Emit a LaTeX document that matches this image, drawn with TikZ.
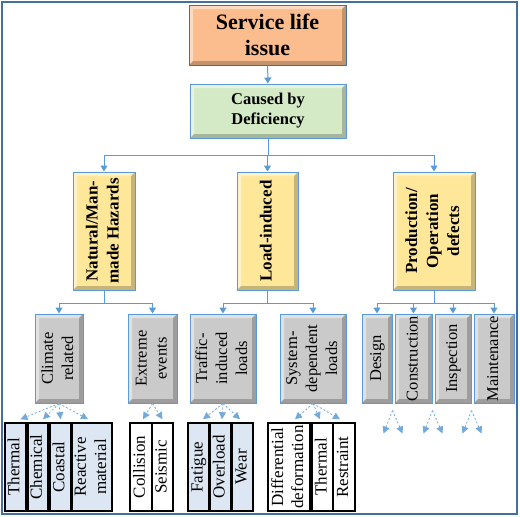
\documentclass[tikz,border=0pt]{standalone}
\usepackage{fontspec}
\setmainfont{Liberation Serif}
\usepackage{graphicx}
\usetikzlibrary{arrows.meta}

\definecolor{svcorange}{HTML}{FBBD8D}
\definecolor{defgreen}{HTML}{D4EAC7}
\definecolor{hazyellow}{HTML}{FFE79A}
\definecolor{subgrey}{HTML}{CACACA}
\definecolor{leafblue}{HTML}{DDE7F3}
\definecolor{linkblue}{HTML}{5B9BD5}
\definecolor{framebl}{HTML}{41719C}
\newcommand{\vt}[1]{\rotatebox{90}{\begin{tabular}{@{}c@{}}#1\end{tabular}}}

\tikzset{
  bevel/.style={path picture={
    \fill[white,opacity=.45] (path picture bounding box.south west) -- (path picture bounding box.north west)
      -- (path picture bounding box.north east) -- ([shift={(-4pt,-4pt)}]path picture bounding box.north east)
      -- ([shift={(4pt,-4pt)}]path picture bounding box.north west) -- ([shift={(4pt,4pt)}]path picture bounding box.south west) -- cycle;
    \fill[black,opacity=.22] (path picture bounding box.south west) -- (path picture bounding box.south east)
      -- (path picture bounding box.north east) -- ([shift={(-4pt,-4pt)}]path picture bounding box.north east)
      -- ([shift={(-4pt,4pt)}]path picture bounding box.south east) -- ([shift={(4pt,4pt)}]path picture bounding box.south west) -- cycle;}},
  topbox/.style={draw=framebl, line width=1pt, fill=svcorange, bevel, inner sep=0pt, align=center,
    font=\bfseries\fontsize{22}{26}\selectfont},
  defbox/.style={topbox, draw=linkblue, fill=defgreen, font=\bfseries\fontsize{16.5}{20}\selectfont},
  hazbox/.style={topbox, draw=linkblue, fill=hazyellow, minimum height=118pt, font=\bfseries\fontsize{17}{21}\selectfont},
  subbox/.style={topbox, draw=linkblue, fill=subgrey, minimum height=89pt, font=\fontsize{16.5}{20}\selectfont},
  leafbox/.style={draw=black, line width=1.5pt, fill=leafblue, inner sep=0pt, minimum height=88pt,
    font=\fontsize{17}{20}\selectfont},
  plainleaf/.style={leafbox, fill=white},
  line/.style={draw=linkblue, line width=1pt},
  link/.style={line, -{Triangle[width=7pt,length=6pt]}},
  dashlink/.style={draw=linkblue!85, line width=0.8pt, dash pattern=on 2pt off 2pt, -{Triangle[width=7pt,length=7pt]}}
}

\begin{document}
\begin{tikzpicture}[x=1pt, y=-1pt]

  \useasboundingbox (0,0) rectangle (520,517);
  \draw[framebl, line width=2pt] (2,2) rectangle (517,514);

  %% top levels
  \node[topbox, minimum width=157pt, minimum height=60pt] (issue) at (267.5,35) {Service life\\issue};
  \node[defbox, minimum width=156pt, minimum height=54pt] (cause) at (268,111) {Caused by\\Deficiency};

  \node[hazbox, minimum width=62pt] (nat)  at (104,231)   {\vt{Natural/Man-\\made Hazards}};
  \node[hazbox, minimum width=61pt] (load) at (267.5,231) {\vt{Load-induced}};
  \node[hazbox, minimum width=82pt] (prod) at (434,231)   {\vt{Production/\\Operation\\defects}};

  %% second level
  \node[subbox, minimum width=48pt] (clim)   at (59,358.5)    {\vt{Climate\\related}};
  \node[subbox, minimum width=49pt] (ext)    at (152.5,358.5) {\vt{Extreme\\events}};
  \node[subbox, minimum width=66pt] (traf)   at (223,358.5)   {\vt{Traffic-\\induced\\loads}};
  \node[subbox, minimum width=66pt] (sys)    at (313,358.5)   {\vt{System-\\dependent\\loads}};
  \node[subbox, minimum width=30pt] (design) at (377,358.5)   {\vt{Design}};
  \node[subbox, minimum width=37pt] (constr) at (413.5,358.5) {\vt{Construction}};
  \node[subbox, minimum width=36pt] (insp)   at (453,358.5)   {\vt{Inspection}};
  \node[subbox, minimum width=40pt] (maint)  at (494,358.5)   {\vt{Maintenance}};

  %% leaves
  \node[leafbox, minimum width=21pt] (thermA) at (15.5,467)  {\vt{Thermal}};
  \node[leafbox, minimum width=20pt] (chem)   at (38,467)    {\vt{Chemical}};
  \node[leafbox, minimum width=21pt] (coast)  at (60.5,467)  {\vt{Coastal}};
  \node[leafbox, minimum width=40pt] (react)  at (92,467)    {\vt{Reactive\\material}};
  \node[plainleaf, minimum width=22pt] (coll) at (141,467)   {\vt{Collision}};
  \node[plainleaf, minimum width=21pt] (seis) at (162.5,467) {\vt{Seismic}};
  \node[leafbox, minimum width=21pt] (fat)    at (198.5,467) {\vt{Fatigue}};
  \node[leafbox, minimum width=21pt] (over)   at (220.5,467) {\vt{Overload}};
  \node[leafbox, minimum width=21pt] (wear)   at (242.5,467) {\vt{Wear}};
  \node[plainleaf, minimum width=42pt] (diff)   at (289,467)   {\vt{Differential\\deformation}};
  \node[plainleaf, minimum width=21pt] (thermB) at (322.5,467) {\vt{Thermal}};
  \node[plainleaf, minimum width=22pt] (restr)  at (344,467)   {\vt{Restraint}};

  %% solid connectors
  \draw[link] (issue) -- (cause);
  \coordinate (bus0) at (268,155);
  \draw[line] (cause) -- (bus0);
  \foreach \n in {nat,load,prod} \draw[link] (bus0) -| (\n.north);

  \coordinate (busN) at (104,303);
  \draw[line] (nat) -- (busN);
  \foreach \n in {clim,ext} \draw[link] (busN) -| (\n.north);

  \coordinate (busL) at (267.5,303);
  \draw[line] (load) -- (busL);
  \foreach \n in {traf,sys} \draw[link] (busL) -| (\n.north);

  \coordinate (busP) at (434,303);
  \draw[line] (prod) -- (busP);
  \foreach \n in {design,constr,insp,maint} \draw[link] (busP) -| (\n.north);

  %% dashed connectors
  \foreach \n/\dx in {thermA/5,chem/5,coast/0,react/-4}
    \draw[dashlink] (clim.south) -- ([shift={(\dx pt,3pt)}]\n.north);
  \foreach \n/\dx in {coll/2,seis/0}
    \draw[dashlink] (ext.south) -- ([shift={(\dx pt,3pt)}]\n.north);
  \foreach \n/\dx in {fat/4.5,over/1.5,wear/-2.5}
    \draw[dashlink] (traf.south) -- ([shift={(\dx pt,3pt)}]\n.north);
  \foreach \n/\dx in {diff/6,thermB/-2.5,restr/-4}
    \draw[dashlink] (sys.south) -- ([shift={(\dx pt,3pt)}]\n.north);

  \foreach \n/\k in {design/a,constr/b,insp/c}{
    \coordinate (src\k) at ([yshift=-7pt]\n.south east);
    \coordinate (lft\k) at ([shift={(-9pt,-23pt)}]src\k);
    \coordinate (rgt\k) at ([shift={(10pt,-23pt)}]src\k);
    \draw[dashlink] (src\k) -- (lft\k);
    \draw[dashlink] (src\k) -- (rgt\k);
  }

\end{tikzpicture}
\end{document}
